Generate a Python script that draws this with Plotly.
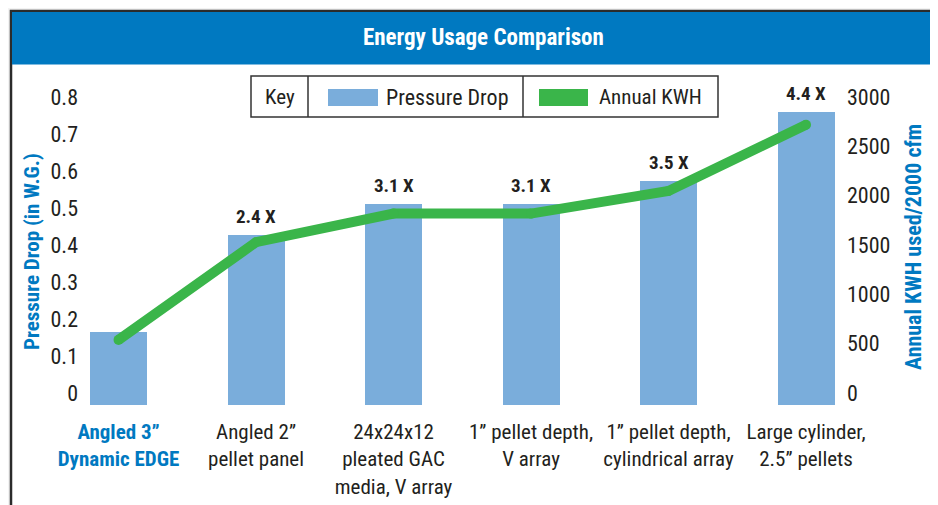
import plotly.graph_objects as go

# ---- data ----
categories = ["Angled 3\u201d<br>Dynamic EDGE", "Angled 2\u201d<br>pellet panel",
              "24x24x12<br>pleated GAC<br>media, V array", "1\u201d pellet depth,<br>V array",
              "1\u201d pellet depth,<br>cylindrical array", "Large cylinder,<br>2.5\u201d pellets"]
pressure_drop = [0.197, 0.459, 0.543, 0.543, 0.605, 0.792]
annual_kwh = [660, 1650, 1940, 1940, 2170, 2840]
multipliers = ["", "2.4 X", "3.1 X", "3.1 X", "3.5 X", "4.4 X"]
highlight = 0

OFF = 8  # page body margin of the html page
W, H = 938 - OFF, 505 - OFF
# plot area in reference-window pixels: x 85..840, y 90..405
L, R, T, B = 85 - OFF, 938 - 840, 90 - OFF, 505 - 405
PW, PH = W - L - R, H - T - B

def xp(px):
    return (px - OFF - L) / PW

def yp(py):
    return (H - B - (py - OFF)) / PH

FONT = "Roboto Condensed, Roboto, sans-serif"
DARK = "#231f20"
BLUE = "#0079c1"
BAR = "#7aaddb"
GREEN = "#3ab54a"

ticktext = []
for i, c in enumerate(categories):
    if i == highlight:
        ticktext.append("<br>".join(f"<b><span style='color:{BLUE}'>{p}</span></b>" for p in c.split("<br>")))
    else:
        ticktext.append(c)

fig = go.Figure()
fig.add_trace(go.Bar(x=categories, y=pressure_drop, width=0.415, marker_color=BAR,
                     marker_line_width=0, name="Pressure Drop", showlegend=False))
fig.add_trace(go.Scatter(x=categories, y=annual_kwh, yaxis="y2", mode="lines+markers",
                         line=dict(color=GREEN, width=10), marker=dict(color=GREEN, size=10),
                         name="Annual KWH", showlegend=False))

shapes = []
# outer frame and header
shapes.append(dict(type="rect", xref="paper", yref="paper", x0=xp(11), x1=xp(935), y0=yp(11), y1=yp(530),
                   line=dict(color="#2b2b2b", width=2.5), fillcolor="white", layer="below"))
shapes.append(dict(type="rect", xref="paper", yref="paper", x0=xp(12), x1=xp(934), y0=yp(12), y1=yp(64.5),
                   line=dict(width=0), fillcolor=BLUE, layer="below"))
# legend ("Key") box
shapes.append(dict(type="rect", xref="paper", yref="paper", x0=xp(251), x1=xp(718), y0=yp(76), y1=yp(117),
                   line=dict(color="#333333", width=1.5), fillcolor="white", layer="above"))
for dx in (308, 523):
    shapes.append(dict(type="line", xref="paper", yref="paper", x0=xp(dx), x1=xp(dx), y0=yp(76), y1=yp(117),
                       line=dict(color="#333333", width=1.5)))
shapes.append(dict(type="rect", xref="paper", yref="paper", x0=xp(328), x1=xp(378), y0=yp(89), y1=yp(106),
                   line=dict(width=0), fillcolor=BAR, layer="above"))
shapes.append(dict(type="rect", xref="paper", yref="paper", x0=xp(539), x1=xp(588), y0=yp(89), y1=yp(106),
                   line=dict(width=0), fillcolor=GREEN, layer="above"))

def pa(text, x, y, size=21, color=DARK, xanchor="center", angle=0):
    return dict(text=text, x=xp(x), y=yp(y), xref="paper", yref="paper", xanchor=xanchor, yanchor="middle",
                textangle=angle, showarrow=False, font=dict(family=FONT, size=size, color=color))

ann = [
    pa("<b>Energy Usage Comparison</b>", 483, 38, size=23, color="white"),
    pa("Key", 279.5, 97),
    pa("Pressure Drop", 384, 97, size=22, xanchor="left"),
    pa("Annual KWH", 597, 97, xanchor="left"),
    pa("<b>Pressure Drop (in W.G.)</b>", 32, 252, color=BLUE, angle=-90),
    pa("<b>Annual KWH used/2000 cfm</b>", 913, 247, size=22, color=BLUE, angle=-90),
]
for c, v, m in zip(categories, pressure_drop, multipliers):
    if m:
        ann.append(dict(text=f"<b>{m}</b>", x=c, y=v, xref="x", yref="y", xanchor="center", yanchor="bottom",
                        yshift=5, showarrow=False, font=dict(family=FONT, size=19, color=DARK)))

fig.update_layout(
    width=W, height=H, margin=dict(l=L, r=R, t=T, b=B, pad=0, autoexpand=False),
    paper_bgcolor="#f3f3f3", plot_bgcolor="rgba(0,0,0,0)",
    font=dict(family=FONT, size=21, color=DARK),
    shapes=shapes, annotations=ann, showlegend=False, bargap=0,
    xaxis=dict(type="category", range=[-0.244, 5.247], tickvals=categories, ticktext=ticktext,
               showgrid=False, zeroline=False, showline=False, ticks="", ticklabelstandoff=12,
               automargin=False, tickfont=dict(family=FONT, size=21, color=DARK)),
    yaxis=dict(range=[0, 0.8514], dtick=0.1, tick0=0, showgrid=False, zeroline=False, showline=False,
               ticks="", ticklabelshift=-12, ticklabelstandoff=6, automargin=False,
               tickfont=dict(family=FONT, size=22, color=DARK)),
    yaxis2=dict(range=[0, 3192.6], dtick=500, tick0=0, overlaying="y", side="right", showgrid=False,
                zeroline=False, showline=False, ticks="", ticklabelshift=-12, ticklabelstandoff=6,
                automargin=False, tickfont=dict(family=FONT, size=22, color=DARK)),
)
fig.write_html("out.html")
